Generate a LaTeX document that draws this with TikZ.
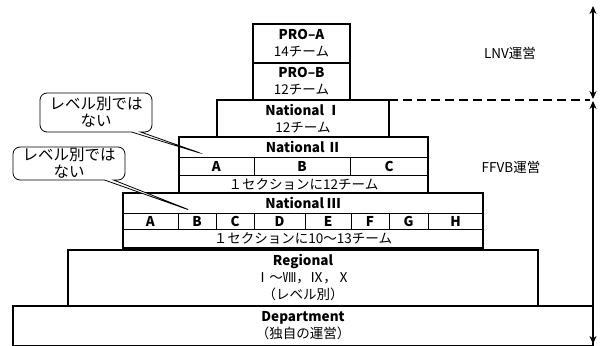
\documentclass[tikz,border=0pt]{standalone}
\usepackage{fontspec}
\setmainfont{Noto Sans CJK JP}
\usetikzlibrary{arrows.meta,shapes.callouts}
\begin{document}
\begin{tikzpicture}[x=1pt,y=-1pt,
  box/.style={draw, inner sep=0pt, outer sep=0pt, anchor=north west, align=center, font=\fontsize{13.5}{17}\selectfont},
  thickbox/.style={box, line width=2.6pt},
  midbox/.style={box, line width=1.8pt},
  cell/.style={box, line width=0.8pt},
  lbl/.style={font=\fontsize{13.5}{16}\selectfont, inner sep=0pt},
  callbox/.style={rectangle callout, draw, line width=0.8pt, rounded corners=7pt, align=center, inner sep=0pt, callout pointer width=9pt, fill=white, font=\fontsize{15.5}{17}\selectfont},
  arr/.style={line width=2pt, {Stealth[length=8pt,width=7pt]}-{Stealth[length=8pt,width=7pt]}}]
\useasboundingbox (0,0) rectangle (601,345);
\clip (0,0) rectangle (601,345);
% Department and Regional
\node[midbox, minimum width=580pt, minimum height=40pt] (dep) at (13,306) {\textbf{Department}\\（独自の運営）};
\node[thickbox, minimum width=470pt, minimum height=56pt] (reg) at (68,250) {\textbf{Regional}\\Ⅰ～Ⅷ，Ⅸ，Ⅹ\\（レベル別）};
% National III
\node[cell, minimum width=360pt, minimum height=20pt] (n3h) at (123,193) {\textbf{National Ⅲ}};
\node[cell, minimum width=55pt, minimum height=16pt] (n3a) at (123,213) {\textbf{A}};
\node[cell, minimum width=38pt, minimum height=16pt] (n3b) at (178,213) {\textbf{B}};
\node[cell, minimum width=38pt, minimum height=16pt] (n3c) at (216,213) {\textbf{C}};
\node[cell, minimum width=51pt, minimum height=16pt] (n3d) at (254,213) {\textbf{D}};
\node[cell, minimum width=46pt, minimum height=16pt] (n3e) at (305,213) {\textbf{E}};
\node[cell, minimum width=38pt, minimum height=16pt] (n3f) at (351,213) {\textbf{F}};
\node[cell, minimum width=39pt, minimum height=16pt] (n3g) at (389,213) {\textbf{G}};
\node[cell, minimum width=55pt, minimum height=16pt] (n3hh) at (428,213) {\textbf{H}};
\node[cell, minimum width=360pt, minimum height=19pt] (n3f2) at (123,229) {１セクションに10～13チーム};
\node[thickbox, minimum width=360pt, minimum height=55pt] (n3) at (123,193) {};
% National II
\node[cell, minimum width=249pt, minimum height=20pt] (n2h) at (179,137) {\textbf{National Ⅱ}};
\node[cell, minimum width=75pt, minimum height=18pt] (n2a) at (179,157) {\textbf{A}};
\node[cell, minimum width=96pt, minimum height=18pt] (n2b) at (254,157) {\textbf{B}};
\node[cell, minimum width=78pt, minimum height=18pt] (n2c) at (350,157) {\textbf{C}};
\node[cell, minimum width=249pt, minimum height=18pt] (n2f) at (179,175) {１セクションに12チーム};
\node[midbox, minimum width=249pt, minimum height=56pt] (n2) at (179,137) {};
% National I and PRO
\node[thickbox, minimum width=172pt, minimum height=37pt] (n1) at (217,100) {\textbf{National Ⅰ}\\12チーム};
\node[thickbox, minimum width=97pt, minimum height=37pt] (prob) at (253,63) {\textbf{PRO–B}\\12チーム};
\node[thickbox, minimum width=97pt, minimum height=39pt] (proa) at (253,24) {\textbf{PRO–A}\\14チーム};
% right side labels and arrows
\node[lbl] (lnv) at (510,53) {LNV運営};
\node[lbl] (ffvb) at (511,167) {FFVB運営};
\coordinate (a1) at (593,6);
\coordinate (a2) at (593,99);
\coordinate (a3) at (593,101);
\coordinate (a4) at (593,344);
\coordinate (dend) at (590,100);
\draw[arr] (a1) -- (a2);
\draw[arr] (a3) -- (a4);
\draw[line width=2.6pt, dash pattern=on 9pt off 5pt] (n1.north east) -- (dend);
% callouts
\coordinate (p1) at (203,154);
\coordinate (p2) at (192,211);
\node[callbox, minimum width=112pt, minimum height=39pt, callout absolute pointer={(p1)}] (c1) at (96,112.5) {レベル別では\\ない};
\node[callbox, minimum width=112pt, minimum height=33pt, callout absolute pointer={(p2)}] (c2) at (69,163.5) {レベル別では\\ない};
\end{tikzpicture}
\end{document}
